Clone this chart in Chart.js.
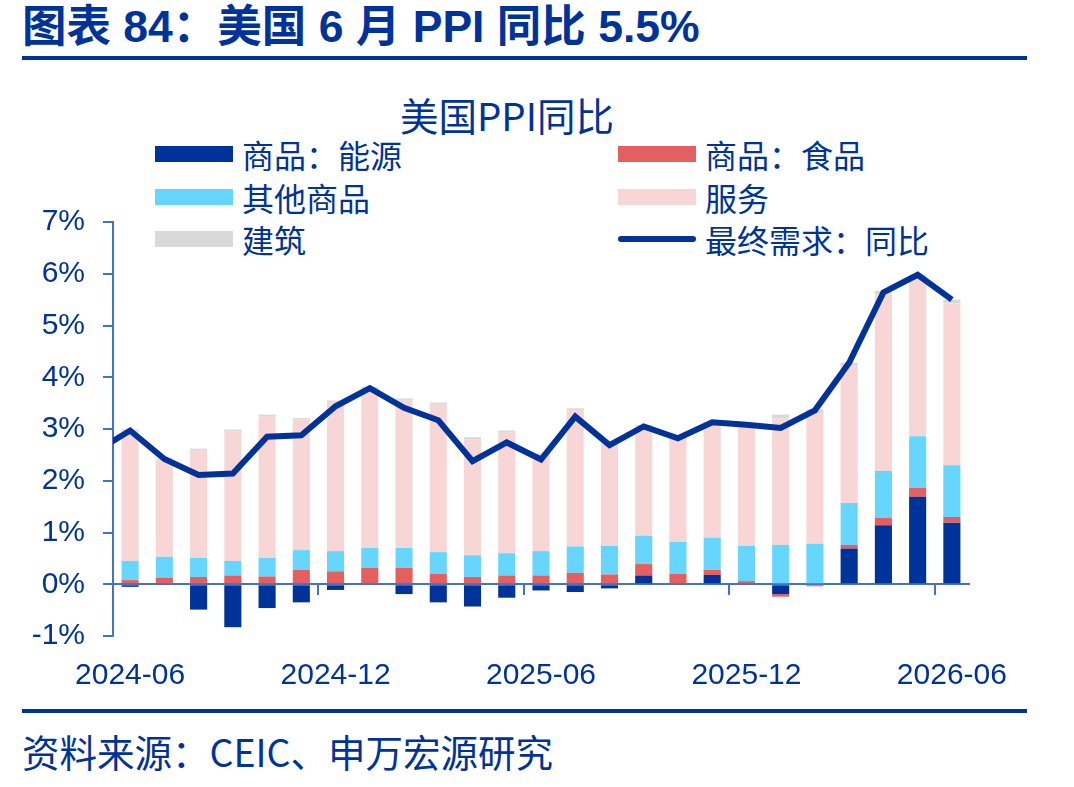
<!DOCTYPE html>
<html>
<head>
<meta charset="utf-8">
<script src="https://cdn.jsdelivr.net/npm/chart.js@4.4.1/dist/chart.umd.min.js"></script>
<style>
    body { margin: 0; width: 1074px; height: 787px; background: #fff; position: relative; overflow: hidden;
           font-family: "Noto Sans CJK SC", sans-serif; color: #003399; }
    #head { position: absolute; left: 22px; top: -1px; font: bold 44.5px "Liberation Sans", "Noto Sans CJK SC"; line-height: 56px; white-space: nowrap; }
    .rule { position: absolute; left: 22px; width: 1005px; height: 4px; background: #003399; }
    #title { position: absolute; left: 400px; top: 89px; font-size: 38.5px; line-height: 50px; white-space: nowrap; }
    .item { position: absolute; display: flex; align-items: center; height: 42px; font-size: 32px; white-space: nowrap; }
    .sw { width: 78px; height: 16px; margin-right: 9px; }
    .sw.line { height: 6px; border-radius: 3px; }
    #chartBox { position: absolute; left: 0; top: 186px; width: 1074px; height: 514px; }
    #foot { position: absolute; left: 22px; top: 727px; font-size: 37.5px; line-height: 48px; white-space: nowrap; }
</style>
</head>
<body>
<div id="head">图表 84：美国 6 月 PPI 同比 5.5%</div>
<div class="rule" style="top:56px"></div>
<div id="title">美国PPI同比</div>
<div id="legend"></div>
<div id="chartBox"><canvas id="ppiChart" width="1074" height="514"></canvas></div>
<div class="rule" style="top:709px"></div>
<div id="foot">资料来源：CEIC、申万宏源研究</div>

<script>
// 月份（第一个月只用于折线左端被截断的一段）
const months = ['2024-05',
    '2024-06', '2024-07', '2024-08', '2024-09', '2024-10', '2024-11', '2024-12',
    '2025-01', '2025-02', '2025-03', '2025-04', '2025-05', '2025-06', '2025-07',
    '2025-08', '2025-09', '2025-10', '2025-11', '2025-12', '2026-01', '2026-02',
    '2026-03', '2026-04', '2026-05', '2026-06'];
const shownLabels = ['2024-06', '2024-12', '2025-06', '2025-12', '2026-06'];

// 拉动（百分点），2024-06 ~ 2026-06
const energy = [-0.05, 0, -0.49, -0.83, -0.46, -0.35, -0.11, 0, -0.19, -0.35, -0.43, -0.26, -0.12,
    -0.15, -0.08, 0.17, 0, 0.18, 0, -0.19, 0, 0.69, 1.14, 1.69, 1.19];
const food = [0.08, 0.13, 0.14, 0.17, 0.15, 0.28, 0.25, 0.32, 0.32, 0.20, 0.14, 0.17, 0.17,
    0.22, 0.19, 0.22, 0.20, 0.10, 0.06, -0.05, -0.04, 0.07, 0.14, 0.17, 0.11];
const otherGoods = [0.37, 0.40, 0.37, 0.28, 0.36, 0.38, 0.39, 0.38, 0.38, 0.42, 0.42, 0.43, 0.47,
    0.51, 0.55, 0.55, 0.62, 0.62, 0.68, 0.76, 0.78, 0.81, 0.91, 1.00, 1.00];
const services = [2.54, 1.88, 2.07, 2.50, 2.73, 2.52, 2.87, 3.08, 2.85, 2.85, 2.24, 2.33, 1.86,
    2.63, 1.98, 2.11, 2.01, 2.21, 2.28, 2.44, 2.53, 2.64, 3.41, 3.05, 3.13];
const construction = [0.01, 0.02, 0.04, 0.04, 0.04, 0.03, 0.04, 0.03, 0.04, 0.04, 0.04, 0.04, 0.03,
    0.04, 0.03, 0.03, 0.03, 0.03, 0.03, 0.08, 0.07, 0.07, 0.07, 0.07, 0.07];
// 最终需求同比（%），2024-05 ~ 2026-06
const finalDemand = [2.57, 2.97, 2.42, 2.11, 2.14, 2.85, 2.88, 3.44, 3.79, 3.41, 3.17, 2.38, 2.74,
    2.41, 3.24, 2.69, 3.05, 2.82, 3.13, 3.08, 3.02, 3.36, 4.28, 5.64, 5.98, 5.50];

const textColor = '#003399';
const axisColor = '#4472C4';

// 柱子数据前面补一个空位，对齐 2024-05
const pad = arr => [null].concat(arr);

function barSet(label, data, color) {
    return {
        type: 'bar', label: label, data: pad(data), backgroundColor: color,
        borderWidth: 0, barPercentage: 0.5, categoryPercentage: 1, order: 1
    };
}

const datasets = [
    barSet('商品：能源', energy, '#003399'),
    barSet('商品：食品', food, '#E45F5F'),
    barSet('其他商品', otherGoods, '#66D6FF'),
    barSet('服务', services, '#F8D6D6'),
    barSet('建筑', construction, '#D9D9D9'),
    {
        type: 'line', label: '最终需求：同比', data: finalDemand, borderColor: '#003399',
        borderWidth: 6, pointRadius: 0, tension: 0, fill: false, clip: 0, order: 0, stack: 'line'
    }
];

const chart = new Chart(document.getElementById('ppiChart').getContext('2d'), {
    type: 'bar',
    data: { labels: months, datasets: datasets },
    options: {
        responsive: false,
        animation: false,
        devicePixelRatio: 1,
        // 顶部留白由 y 轴标签自身的 padding 决定（约 36px）
        layout: { padding: { top: 0, right: 105, left: 0, bottom: 0 } },
        plugins: { legend: { display: false }, tooltip: { enabled: false } },
        scales: {
            x: {
                type: 'category', position: { y: 0 }, offset: true, min: '2024-06', stacked: true, z: 1,
                grid: {
                    offset: true, drawOnChartArea: false, tickLength: 10, lineWidth: 2,
                    color: ctx => (ctx.tick && shownLabels.includes(months[ctx.tick.value])) ? axisColor : 'rgba(0,0,0,0)'
                },
                border: { color: axisColor, width: 2 },
                ticks: { display: false }
            },
            x2: {
                type: 'category', position: 'bottom', offset: true, min: '2024-06',
                grid: { display: false, drawTicks: false },
                border: { display: false },
                ticks: {
                    autoSkip: false, maxRotation: 0, padding: 22, color: textColor,
                    font: { family: 'Liberation Sans', size: 30 },
                    callback: function (v) {
                        const l = this.getLabelForValue(v);
                        return shownLabels.includes(l) ? l : '';
                    }
                },
                afterFit: s => { s.height = 64; }
            },
            y: {
                stacked: true, min: -1, max: 7,
                ticks: {
                    stepSize: 1, padding: 18, color: textColor,
                    font: { family: 'Liberation Sans', size: 30 },
                    callback: v => v + '%'
                },
                grid: { drawOnChartArea: false, tickLength: 10, color: axisColor, lineWidth: 2 },
                border: { color: axisColor, width: 2 },
                afterFit: s => { s.width = 113; }
            }
        }
    }
});

// 两列图例
const legend = document.getElementById('legend');
chart.data.datasets.forEach((ds, i) => {
    const col = i % 2, row = Math.floor(i / 2);
    const item = document.createElement('div');
    item.className = 'item';
    item.style.left = (col === 0 ? 155 : 618) + 'px';
    item.style.top = (133 + row * 42.5) + 'px';
    const sw = document.createElement('div');
    sw.className = ds.type === 'line' ? 'sw line' : 'sw';
    sw.style.background = ds.type === 'line' ? ds.borderColor : ds.backgroundColor;
    const txt = document.createElement('span');
    txt.textContent = ds.label;
    item.appendChild(sw);
    item.appendChild(txt);
    legend.appendChild(item);
});
</script>
</body>
</html>
